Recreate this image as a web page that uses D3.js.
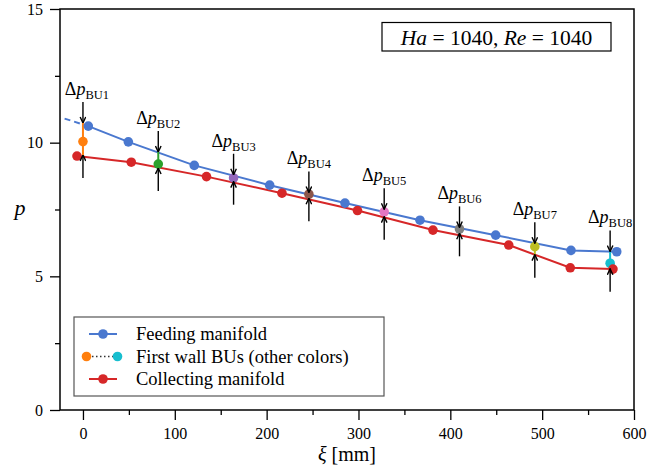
<!DOCTYPE html>
<html>
<head>
<meta charset="utf-8">
<script src="https://cdn.jsdelivr.net/npm/d3@7"></script>
<style>
  body { margin: 0; background: #fff; }
  svg text { font-family: "Liberation Serif", "DejaVu Serif", "Times New Roman", Times, "Noto Serif", serif !important; fill: #000; }
</style>
</head>
<body>
<svg id="chart"></svg>
<script>
// feeding manifold (blue)
var feedXi = [5.8, 49.4, 121.2, 203.3, 285.3, 367, 449.4, 531.4, 581.2];
var feedP = [10.62, 10.03, 9.15, 8.41, 7.74, 7.10, 6.54, 5.97, 5.92];
// dashed inlet piece in front of the first feeding point
var feedInXi = [-20, 5.8];
var feedInP = [10.90, 10.62];

// collecting manifold (red)
var collXi = [-6.5, 52.6, 134.5, 216.7, 298.9, 381.1, 463.6, 530.6, 577.1];
var collP = [9.50, 9.27, 8.73, 8.11, 7.46, 6.73, 6.17, 5.32, 5.27];

// first wall BUs
var buNames = ["BU1", "BU2", "BU3", "BU4", "BU5", "BU6", "BU7", "BU8"];
var buXi = [0, 82, 164, 246, 328, 410, 492, 574];
var buP = [10.04, 9.20, 8.68, 8.07, 7.41, 6.77, 6.11, 5.49];
var buTop = [10.74, 9.65, 8.80, 8.14, 7.51, 6.83, 6.24, 5.93];
var buBottom = [9.54, 9.05, 8.54, 7.92, 7.23, 6.61, 5.81, 5.28];
var buColors = ["#ff7f0e", "#2ca02c", "#9467bd", "#8c564b", "#e377c2", "#7f7f7f", "#bcbd22", "#17becf"];

var xTicks = [0, 100, 200, 300, 400, 500, 600];
var xMinor = [50, 150, 250, 350, 450, 550];
var yTicks = [0, 5, 10, 15];
var yMinor = [2.5, 7.5, 12.5];
var legendLabels = ["Feeding manifold", "First wall BUs (other colors)", "Collecting manifold"];

var blue = "#4a78cf", red = "#d62728";
var serif = '"Liberation Serif", "DejaVu Serif", "Times New Roman", Times, "Noto Serif", serif';
var W = 648, H = 468;
var margin = { top: 9, right: 14, bottom: 58, left: 60 };
var width = W - margin.left - margin.right,
    height = H - margin.top - margin.bottom;

var svg = d3.select("#chart").attr("width", W).attr("height", H)
  .attr("font-family", serif);

svg.append("defs").append("marker")
  .attr("id", "head")
  .attr("viewBox", "0 0 10 10")
  .attr("refX", 9.5).attr("refY", 5)
  .attr("markerWidth", 7).attr("markerHeight", 7)
  .attr("markerUnits", "userSpaceOnUse")
  .attr("orient", "auto")
  .append("path")
  .attr("d", "M1,1 L9.5,5 L1,9")
  .attr("fill", "none")
  .attr("stroke", "#000")
  .attr("stroke-width", 2);

var g = svg.append("g")
  .attr("transform", "translate(" + margin.left + "," + margin.top + ")");

var x = d3.scaleLinear().domain([-25, 600]).range([0, width]);
var y = d3.scaleLinear().domain([0, 15]).range([height, 0]);

// axes
g.append("g").attr("transform", "translate(0," + height + ")")
  .call(d3.axisBottom(x).tickValues(xTicks).tickSize(10).tickPadding(8).tickFormat(d3.format("d")));
g.append("g").attr("transform", "translate(0," + height + ")")
  .call(d3.axisBottom(x).tickValues(xMinor).tickSize(5).tickFormat(""));
g.append("g")
  .call(d3.axisLeft(y).tickValues(yTicks).tickSize(10).tickPadding(7).tickFormat(d3.format("d")));
g.append("g")
  .call(d3.axisLeft(y).tickValues(yMinor).tickSize(5).tickFormat(""));
g.selectAll(".domain").remove();
g.selectAll(".tick line").attr("stroke", "#000").attr("stroke-width", 1.3);
g.selectAll("g").attr("font-family", serif);
g.selectAll(".tick text").style("font-size", "16px");

// frame
g.append("rect")
  .attr("width", width).attr("height", height)
  .attr("fill", "none").attr("stroke", "#000").attr("stroke-width", 1.5);

var line = d3.line()
  .x(function(d) { return x(d[0]) })
  .y(function(d) { return y(d[1]) });

// manifold lines
g.append("path")
  .attr("d", line(d3.zip(feedInXi, feedInP)))
  .attr("stroke", blue).attr("stroke-width", 2).attr("fill", "none")
  .attr("stroke-dasharray", "6,4");
g.append("path")
  .attr("d", line(d3.zip(feedXi, feedP)))
  .attr("stroke", blue).attr("stroke-width", 2).attr("fill", "none");
g.append("path")
  .attr("d", line(d3.zip(collXi, collP)))
  .attr("stroke", red).attr("stroke-width", 2).attr("fill", "none");

// BU segments and points
var bu = buXi.map(function(v, i) {
  return { name: buNames[i], xi: v, p: buP[i], top: buTop[i], bot: buBottom[i], color: buColors[i] };
});
g.selectAll("buLines").data(bu).enter().append("line")
  .attr("x1", function(d) { return x(d.xi) })
  .attr("x2", function(d) { return x(d.xi) })
  .attr("y1", function(d) { return y(d.top) })
  .attr("y2", function(d) { return y(d.bot) })
  .attr("stroke", function(d) { return d.color })
  .attr("stroke-width", 2);
g.selectAll("buDots").data(bu).enter().append("circle")
  .attr("cx", function(d) { return x(d.xi) })
  .attr("cy", function(d) { return y(d.p) })
  .attr("r", 4.8)
  .attr("fill", function(d) { return d.color });

// manifold markers
g.selectAll("feedDots").data(d3.zip(feedXi, feedP)).enter().append("circle")
  .attr("cx", function(d) { return x(d[0]) })
  .attr("cy", function(d) { return y(d[1]) })
  .attr("r", 4.8).attr("fill", blue);
g.selectAll("collDots").data(d3.zip(collXi, collP)).enter().append("circle")
  .attr("cx", function(d) { return x(d[0]) })
  .attr("cy", function(d) { return y(d[1]) })
  .attr("r", 4.8).attr("fill", red);

// pressure drop arrows
var arrowLen = 21;
g.selectAll("downArrows").data(bu).enter().append("line")
  .attr("x1", function(d) { return x(d.xi) })
  .attr("x2", function(d) { return x(d.xi) })
  .attr("y1", function(d) { return y(d.top) - arrowLen })
  .attr("y2", function(d) { return y(d.top) })
  .attr("stroke", "#000").attr("stroke-width", 1.4)
  .attr("marker-end", "url(#head)");
g.selectAll("upArrows").data(bu).enter().append("line")
  .attr("x1", function(d) { return x(d.xi) })
  .attr("x2", function(d) { return x(d.xi) })
  .attr("y1", function(d) { return y(d.bot) + arrowLen + 2 })
  .attr("y2", function(d) { return y(d.bot) })
  .attr("stroke", "#000").attr("stroke-width", 1.4)
  .attr("marker-end", "url(#head)");

var labels = g.selectAll("buLabels").data(bu).enter().append("text")
  .attr("x", function(d, i) { return x(d.xi) + (i === 0 ? 4 : 0) })
  .attr("y", function(d) { return y(d.top) - arrowLen - 7 })
  .attr("text-anchor", "middle")
  .style("font-size", "18px");
labels.append("tspan").text("Δ");
labels.append("tspan").style("font-style", "italic").text("p");
labels.append("tspan").attr("dy", 4).style("font-size", "12.5px").text(function(d) { return d.name });

// title box
var tb = g.append("g");
tb.append("rect")
  .attr("x", 322).attr("y", 13.5).attr("width", 229).attr("height", 28.5)
  .attr("fill", "#fff").attr("stroke", "#000").attr("stroke-width", 1.2);
var tt = tb.append("text")
  .attr("x", 436.5).attr("y", 35.5)
  .attr("text-anchor", "middle")
  .style("font-size", "21.5px");
tt.append("tspan").style("font-style", "italic").text("Ha");
tt.append("tspan").text(" = 1040, ");
tt.append("tspan").style("font-style", "italic").text("Re");
tt.append("tspan").text(" = 1040");

// legend
var lg = g.append("g").attr("transform", "translate(14,308)");
lg.append("rect")
  .attr("width", 310).attr("height", 79)
  .attr("fill", "#fff").attr("stroke", "#555").attr("stroke-width", 1.2);
var rowY = [17, 39.5, 62];
lg.selectAll("legText").data(legendLabels).enter().append("text")
  .attr("x", 62).attr("y", function(d, i) { return rowY[i] })
  .attr("dy", "0.35em")
  .style("font-size", "18.5px")
  .text(function(d) { return d });
[[blue, 0], [red, 2]].forEach(function(e) {
  lg.append("line").attr("x1", 15).attr("x2", 43)
    .attr("y1", rowY[e[1]]).attr("y2", rowY[e[1]])
    .attr("stroke", e[0]).attr("stroke-width", 2);
  lg.append("circle").attr("cx", 29).attr("cy", rowY[e[1]]).attr("r", 4.8).attr("fill", e[0]);
});
lg.append("line").attr("x1", 18).attr("x2", 40)
  .attr("y1", rowY[1]).attr("y2", rowY[1])
  .attr("stroke", "#333").attr("stroke-width", 1.6).attr("stroke-dasharray", "1.5,2.5");
lg.append("circle").attr("cx", 12.5).attr("cy", rowY[1]).attr("r", 4.8).attr("fill", buColors[0]);
lg.append("circle").attr("cx", 43.5).attr("cy", rowY[1]).attr("r", 4.8).attr("fill", buColors[7]);

// axis labels
var xl = svg.append("text")
  .attr("x", margin.left + width / 2).attr("y", 461)
  .attr("text-anchor", "middle")
  .style("font-size", "20px");
xl.append("tspan").style("font-style", "italic").text("ξ");
xl.append("tspan").text(" [mm]");
svg.append("text")
  .attr("x", 20).attr("y", 215)
  .attr("text-anchor", "middle")
  .style("font-size", "22px").style("font-style", "italic")
  .text("p");
</script>
</body>
</html>
